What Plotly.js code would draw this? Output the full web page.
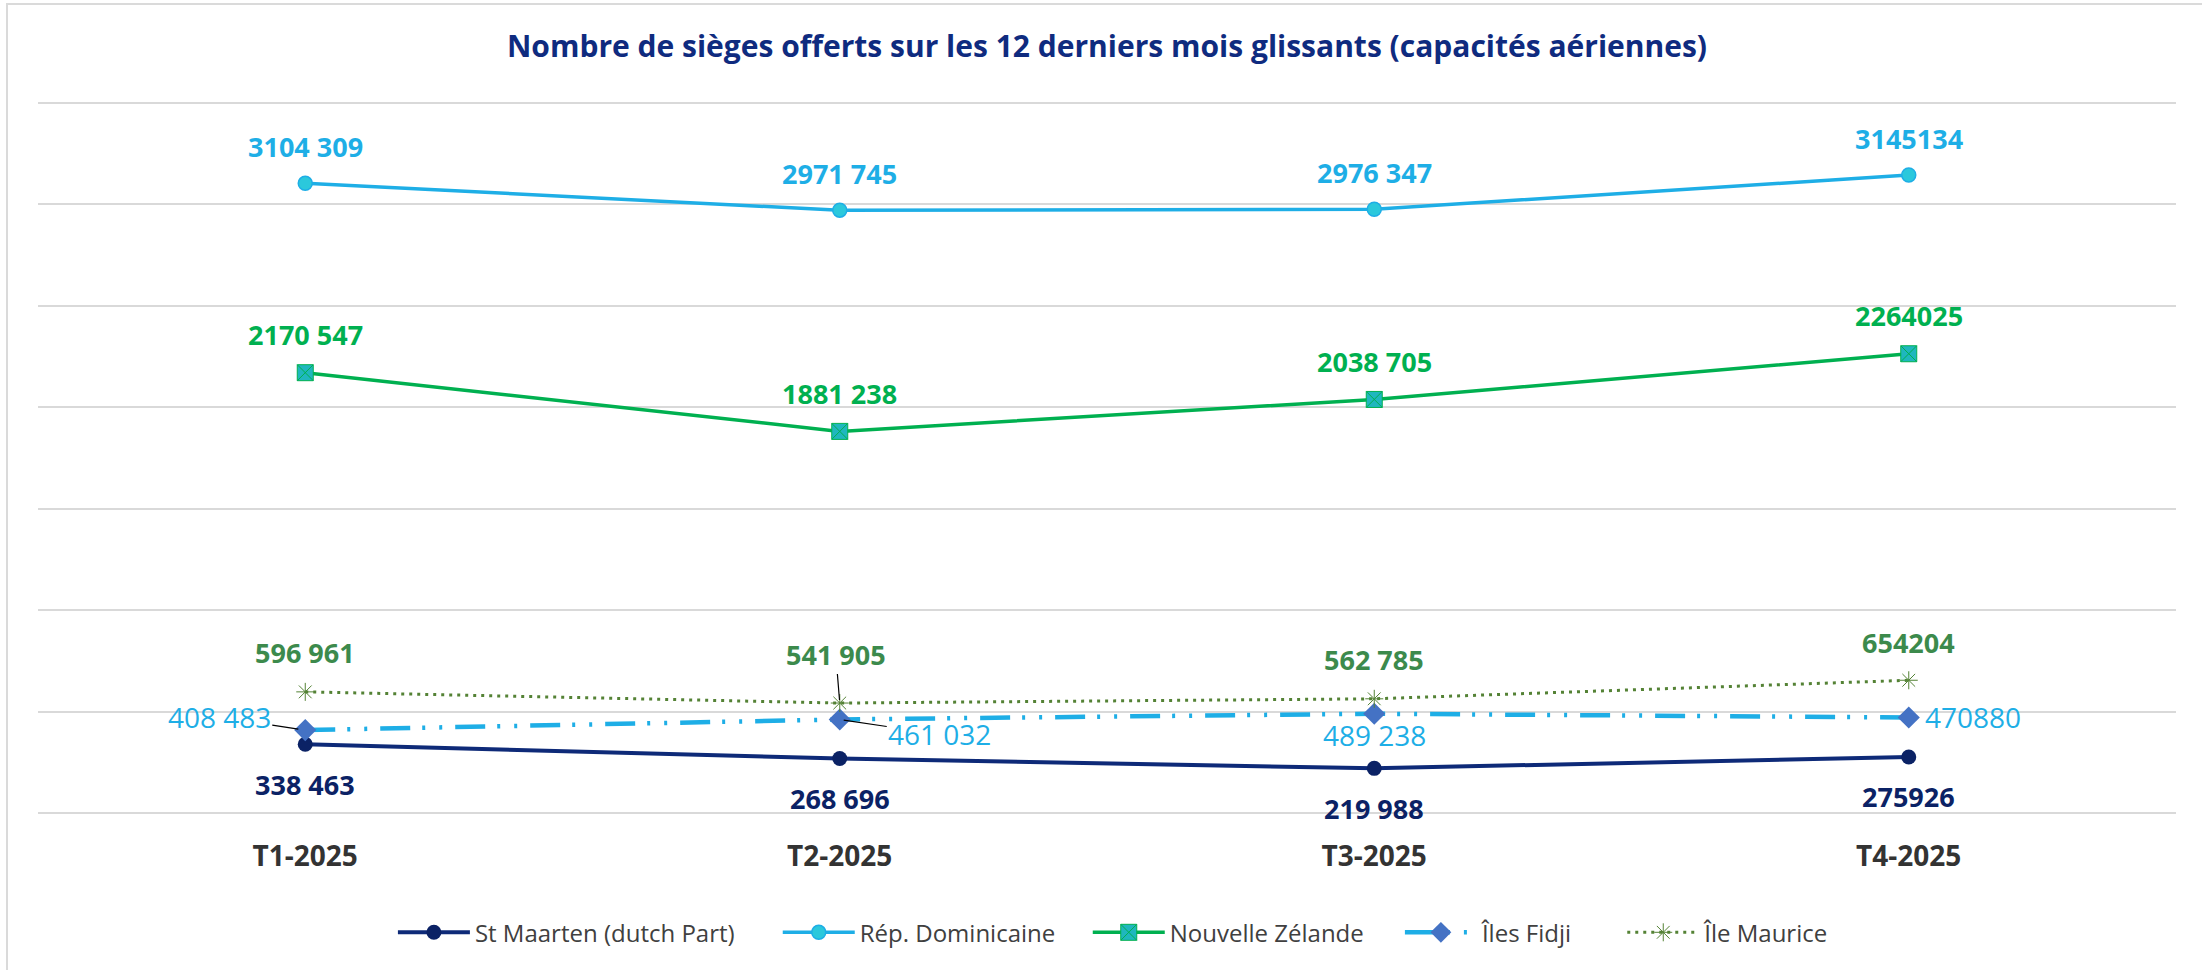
<!DOCTYPE html>
<html><head><meta charset="utf-8">
<script src="https://cdn.plot.ly/plotly-3.0.1.min.js"></script>
<style>
html,body{margin:0;padding:0;background:#fff;overflow:hidden}
#chart{position:absolute;left:0;top:0;width:2202px;height:970px}
#frame{position:absolute;left:6px;top:3px;width:2196px;height:967px;border-left:2px solid #DADADA;border-top:2px solid #DADADA;pointer-events:none;box-sizing:border-box}
</style>
</head><body><div id="chart"></div><div id="frame"></div>
<script>
// ---- data ----
const categories = ['T1-2025', 'T2-2025', 'T3-2025', 'T4-2025'];
const seriesNames = ['St Maarten (dutch Part)', 'Rép. Dominicaine', 'Nouvelle Zélande', 'Îles Fidji', 'Île Maurice'];
const stMaarten = [338463, 268696, 219988, 275926];
const repDominicaine = [3104309, 2971745, 2976347, 3145134];
const nouvelleZelande = [2170547, 1881238, 2038705, 2264025];
const ilesFidji = [408483, 461032, 489238, 470880];
const ileMaurice = [596961, 541905, 562785, 654204];
const stMaartenLabels = ['338 463', '268 696', '219 988', '275926'];
const repDominicaineLabels = ['3104 309', '2971 745', '2976 347', '3145134'];
const nouvelleZelandeLabels = ['2170 547', '1881 238', '2038 705', '2264025'];
const ilesFidjiLabels = ['408 483', '461 032', '489 238', '470880'];
const ileMauriceLabels = ['596 961', '541 905', '562 785', '654204'];
const chartTitle = 'Nombre de sièges offerts sur les 12 derniers mois glissants (capacités aériennes)';

// ---- styling ----
const FONT = 'Open Sans, sans-serif';
const C_NAVY = '#0B2265', C_BLUE = '#1EAEE6', C_GREEN = '#00B050', C_FIDJI = '#4472C4', C_MAUR = '#548235';
const LBL = 27;

const traces = [
  {name: seriesNames[0], legend: 'legend', x: categories, y: stMaarten, mode: 'lines+markers',
   line: {color: '#0E2A78', width: 4}, marker: {symbol: 'circle', size: 15, color: C_NAVY}},
  {name: seriesNames[1], legend: 'legend2', x: categories, y: repDominicaine, mode: 'lines+markers',
   line: {color: C_BLUE, width: 3.5}, marker: {symbol: 'circle', size: 14, color: '#2BC8DC', line: {color: C_BLUE, width: 1.5}}},
  {name: seriesNames[2], legend: 'legend3', x: categories, y: nouvelleZelande, mode: 'lines+markers',
   line: {color: C_GREEN, width: 3.5}, marker: {symbol: 'square-x', size: 16, color: '#1FB7BE', line: {color: C_GREEN, width: 1}}},
  {name: seriesNames[3], legend: 'legend4', x: categories, y: ilesFidji, mode: 'lines+markers',
   line: {color: C_BLUE, width: 4.5, dash: '30px,12px,3px,14px,3px,13px'}, marker: {symbol: 'diamond', size: 17, color: C_FIDJI}},
  {name: seriesNames[4], legend: 'legend5', x: categories, y: ileMaurice, mode: 'lines+markers',
   line: {color: C_MAUR, width: 3, dash: '3px,5px'}, marker: {symbol: 'asterisk-open', size: 15, color: C_MAUR, line: {color: C_MAUR, width: 1}}}
];

const annotations = [];
function addLabels(values, labels, color, weight, size, placements) {
  values.forEach((v, i) => {
    const p = placements[i];
    const a = {x: categories[i], y: v, xref: 'x', yref: 'y', text: labels[i],
      font: {family: FONT, size: size, color: color, weight: weight},
      xanchor: 'center', yanchor: 'middle'};
    if (p.arrow) {
      Object.assign(a, {showarrow: true, ax: p.ax, ay: p.ay, arrowhead: 0, arrowwidth: 1.2,
        arrowcolor: '#000000', standoff: p.standoff || 6, startstandoff: 0});
    } else {
      Object.assign(a, {showarrow: false, xshift: p.dx || 0, yshift: p.dy || 0});
    }
    annotations.push(a);
  });
}
const same = d => [{dy: d}, {dy: d}, {dy: d}, {dy: d}];
addLabels(stMaarten, stMaartenLabels, C_NAVY, 700, LBL, same(-40));
addLabels(repDominicaine, repDominicaineLabels, C_BLUE, 700, LBL, same(37));
addLabels(nouvelleZelande, nouvelleZelandeLabels, C_GREEN, 700, LBL, same(38));
addLabels(ileMaurice, ileMauriceLabels, '#3C8A4C', 700, LBL,
  [{dy: 39}, {arrow: true, ax: -4, ay: -49, standoff: 3}, {dy: 39}, {dy: 38}]);
addLabels(ilesFidji, ilesFidjiLabels, C_BLUE, 400, 28,
  [{arrow: true, ax: -86, ay: -13, standoff: 7}, {arrow: true, ax: 100, ay: 15, standoff: 4}, {dy: -21}, {dx: 64, dy: 0}]);

const legendBase = {orientation: 'h', y: -0.163, yanchor: 'middle', xanchor: 'left',
  font: {family: FONT, size: 24, color: '#404040'}, itemwidth: 72, bgcolor: 'rgba(0,0,0,0)', borderwidth: 0};
const legendX = [0.166, 0.346, 0.491, 0.637, 0.741];

const layout = {
  width: 2202, height: 970,
  margin: {l: 38, r: 26, t: 100, b: 154, autoexpand: false},
  paper_bgcolor: '#ffffff', plot_bgcolor: '#ffffff',
  font: {family: FONT, color: '#404040'},
  title: {text: chartTitle, x: 0.5, xref: 'paper', y: 0.952, yanchor: 'middle',
          font: {family: FONT, size: 30, color: '#0F2B7F', weight: 700}},
  xaxis: {type: 'category', range: [-0.5, 3.5], showgrid: false, zeroline: false, showline: false,
          ticks: '', tickfont: {family: FONT, size: 28, color: '#333333', weight: 700}, ticklabelstandoff: 21},
  yaxis: {range: [-15000, 3515000], dtick: 500000, tick0: 0, showticklabels: false, showgrid: true,
          gridcolor: '#D9D9D9', gridwidth: 2, zeroline: false, showline: false},
  showlegend: true,
  legend: Object.assign({}, legendBase, {x: legendX[0]}),
  legend2: Object.assign({}, legendBase, {x: legendX[1]}),
  legend3: Object.assign({}, legendBase, {x: legendX[2]}),
  legend4: Object.assign({}, legendBase, {x: legendX[3]}),
  legend5: Object.assign({}, legendBase, {x: legendX[4]}),
  annotations: annotations
};

Plotly.newPlot('chart', traces, layout, {displayModeBar: false, staticPlot: true});
</script>
</body></html>
